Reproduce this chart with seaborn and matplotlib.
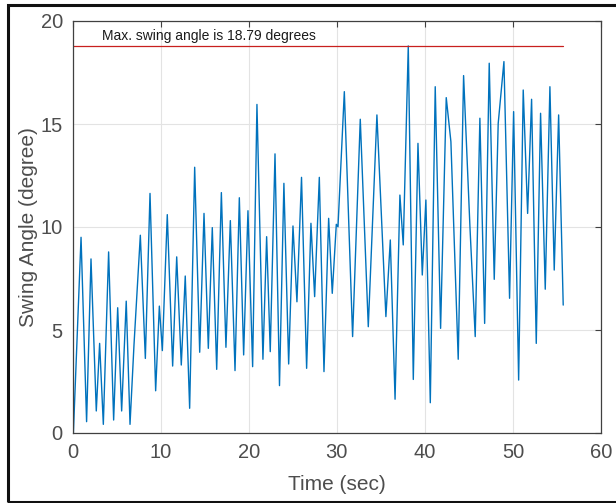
import matplotlib
matplotlib.use("Agg")
import matplotlib.pyplot as plt
import seaborn as sns
import pandas as pd
from matplotlib.patches import Rectangle

# Time (sec) of readable turning points of the swing-angle trace
time_sec = [0.1, 0.97, 1.6, 2.1, 2.7, 3.08, 3.5, 4.1, 4.67, 5.13, 5.58, 6.1, 6.53, 6.98,
            7.7, 8.27, 8.8, 9.44, 9.86, 10.2, 10.76, 11.37, 11.83, 12.35, 12.8, 13.3,
            13.87, 14.44, 14.93, 15.42, 15.87, 16.37, 16.9, 17.42, 17.92, 18.45, 18.94,
            19.43, 19.92, 20.45, 20.94, 21.62, 22.04, 22.45, 22.99, 23.5, 24.0, 24.54,
            25.03, 25.48, 26.0, 26.58, 27.07, 27.49, 28.02, 28.55, 29.08, 29.49, 29.95,
            30.14, 30.86, 31.8, 32.67, 33.58, 34.56, 35.58, 36.08, 36.62, 37.17, 37.55,
            38.12, 38.69, 39.22, 39.71, 40.12, 40.62, 41.18, 41.79, 42.43, 42.96, 43.79,
            44.4, 45.12, 45.72, 46.25, 46.79, 47.31, 47.88, 48.33, 48.98, 49.62, 50.08,
            50.65, 51.17, 51.67, 52.12, 52.65, 53.14, 53.67, 54.2, 54.69, 55.19, 55.71]
# Swing angle (degree) at those times
angle_deg = [0.0, 9.5, 0.55, 8.45, 1.07, 4.35, 0.42, 8.79, 0.63, 6.08, 1.07, 6.4, 0.42, 4.27,
             9.6, 3.62, 11.63, 2.05, 6.16, 4.0, 10.6, 3.25, 8.55, 3.3, 7.62, 1.2,
             12.9, 3.92, 10.66, 4.11, 9.97, 3.09, 11.67, 4.16, 10.31, 3.03, 11.42,
             3.79, 10.79, 3.22, 15.95, 3.58, 9.53, 3.95, 13.55, 2.3, 12.12, 3.35,
             10.05, 6.37, 12.41, 3.14, 10.18, 6.62, 12.41, 2.98, 10.42, 6.78, 10.13,
             10.01, 16.57, 4.68, 15.23, 5.16, 15.44, 5.65, 9.37, 1.64, 11.55, 9.13,
             18.79, 2.6, 14.06, 7.67, 11.31, 1.47, 16.81, 5.08, 16.28, 14.14, 3.58,
             17.35, 10.02, 4.68, 15.28, 5.32, 17.95, 7.46, 15.03, 18.03, 6.54, 15.6,
             2.57, 16.65, 10.66, 16.2, 4.35, 15.52, 6.98, 16.81, 7.91, 15.44, 6.21]

max_angle = 18.79
x_ticks = [0, 10, 20, 30, 40, 50, 60]
y_ticks = [0, 5, 10, 15, 20]

df = pd.DataFrame({"t": time_sec, "a": angle_deg})

sns.set_style("white")
plt.rcParams["font.family"] = ["Liberation Sans", "DejaVu Sans"]

fig = plt.figure(figsize=(6.16, 5.03), dpi=100)
ax = fig.add_axes([72.5 / 616, 70 / 503, (601 - 72.5) / 616, (433 - 21) / 503])

sns.lineplot(data=df, x="t", y="a", ax=ax, color="#0072BD", linewidth=1.0,
             estimator=None, sort=False)
for ln in ax.lines:
    ln.set_solid_joinstyle("round")

ax.plot([0, time_sec[-1]], [max_angle, max_angle], color="#C8201E", linewidth=0.9)
ax.text(3.35, 19.08, f"Max. swing angle is {max_angle} degrees", fontsize=10,
        color="#1a1a1a", va="baseline", ha="left")

ax.set_xlim(0, 60)
ax.set_ylim(0, 20)
ax.set_xticks(x_ticks)
ax.set_yticks(y_ticks)
ax.grid(True, color="#e3e3e3", linewidth=0.8)
ax.set_axisbelow(True)
ax.tick_params(direction="in", length=4, width=0.8, colors="#404040", labelsize=14.5,
               top=True, right=True, pad=7, labelcolor="#4d4d4d")
for s in ax.spines.values():
    s.set_color("#404040")
    s.set_linewidth(0.9)
ax.set_xlabel("Time (sec)", fontsize=15, color="#4d4d4d", labelpad=9.5)
ax.set_ylabel("Swing Angle (degree)", fontsize=15, color="#4d4d4d", labelpad=1.5)

fig.patches.append(Rectangle((7.5 / 616, 1.0 / 503), 1.2, (502 - 5) / 503,
                             transform=fig.transFigure, fill=False,
                             edgecolor="#111111", linewidth=2.2, clip_on=False))

fig.savefig("out.png", dpi=100)
